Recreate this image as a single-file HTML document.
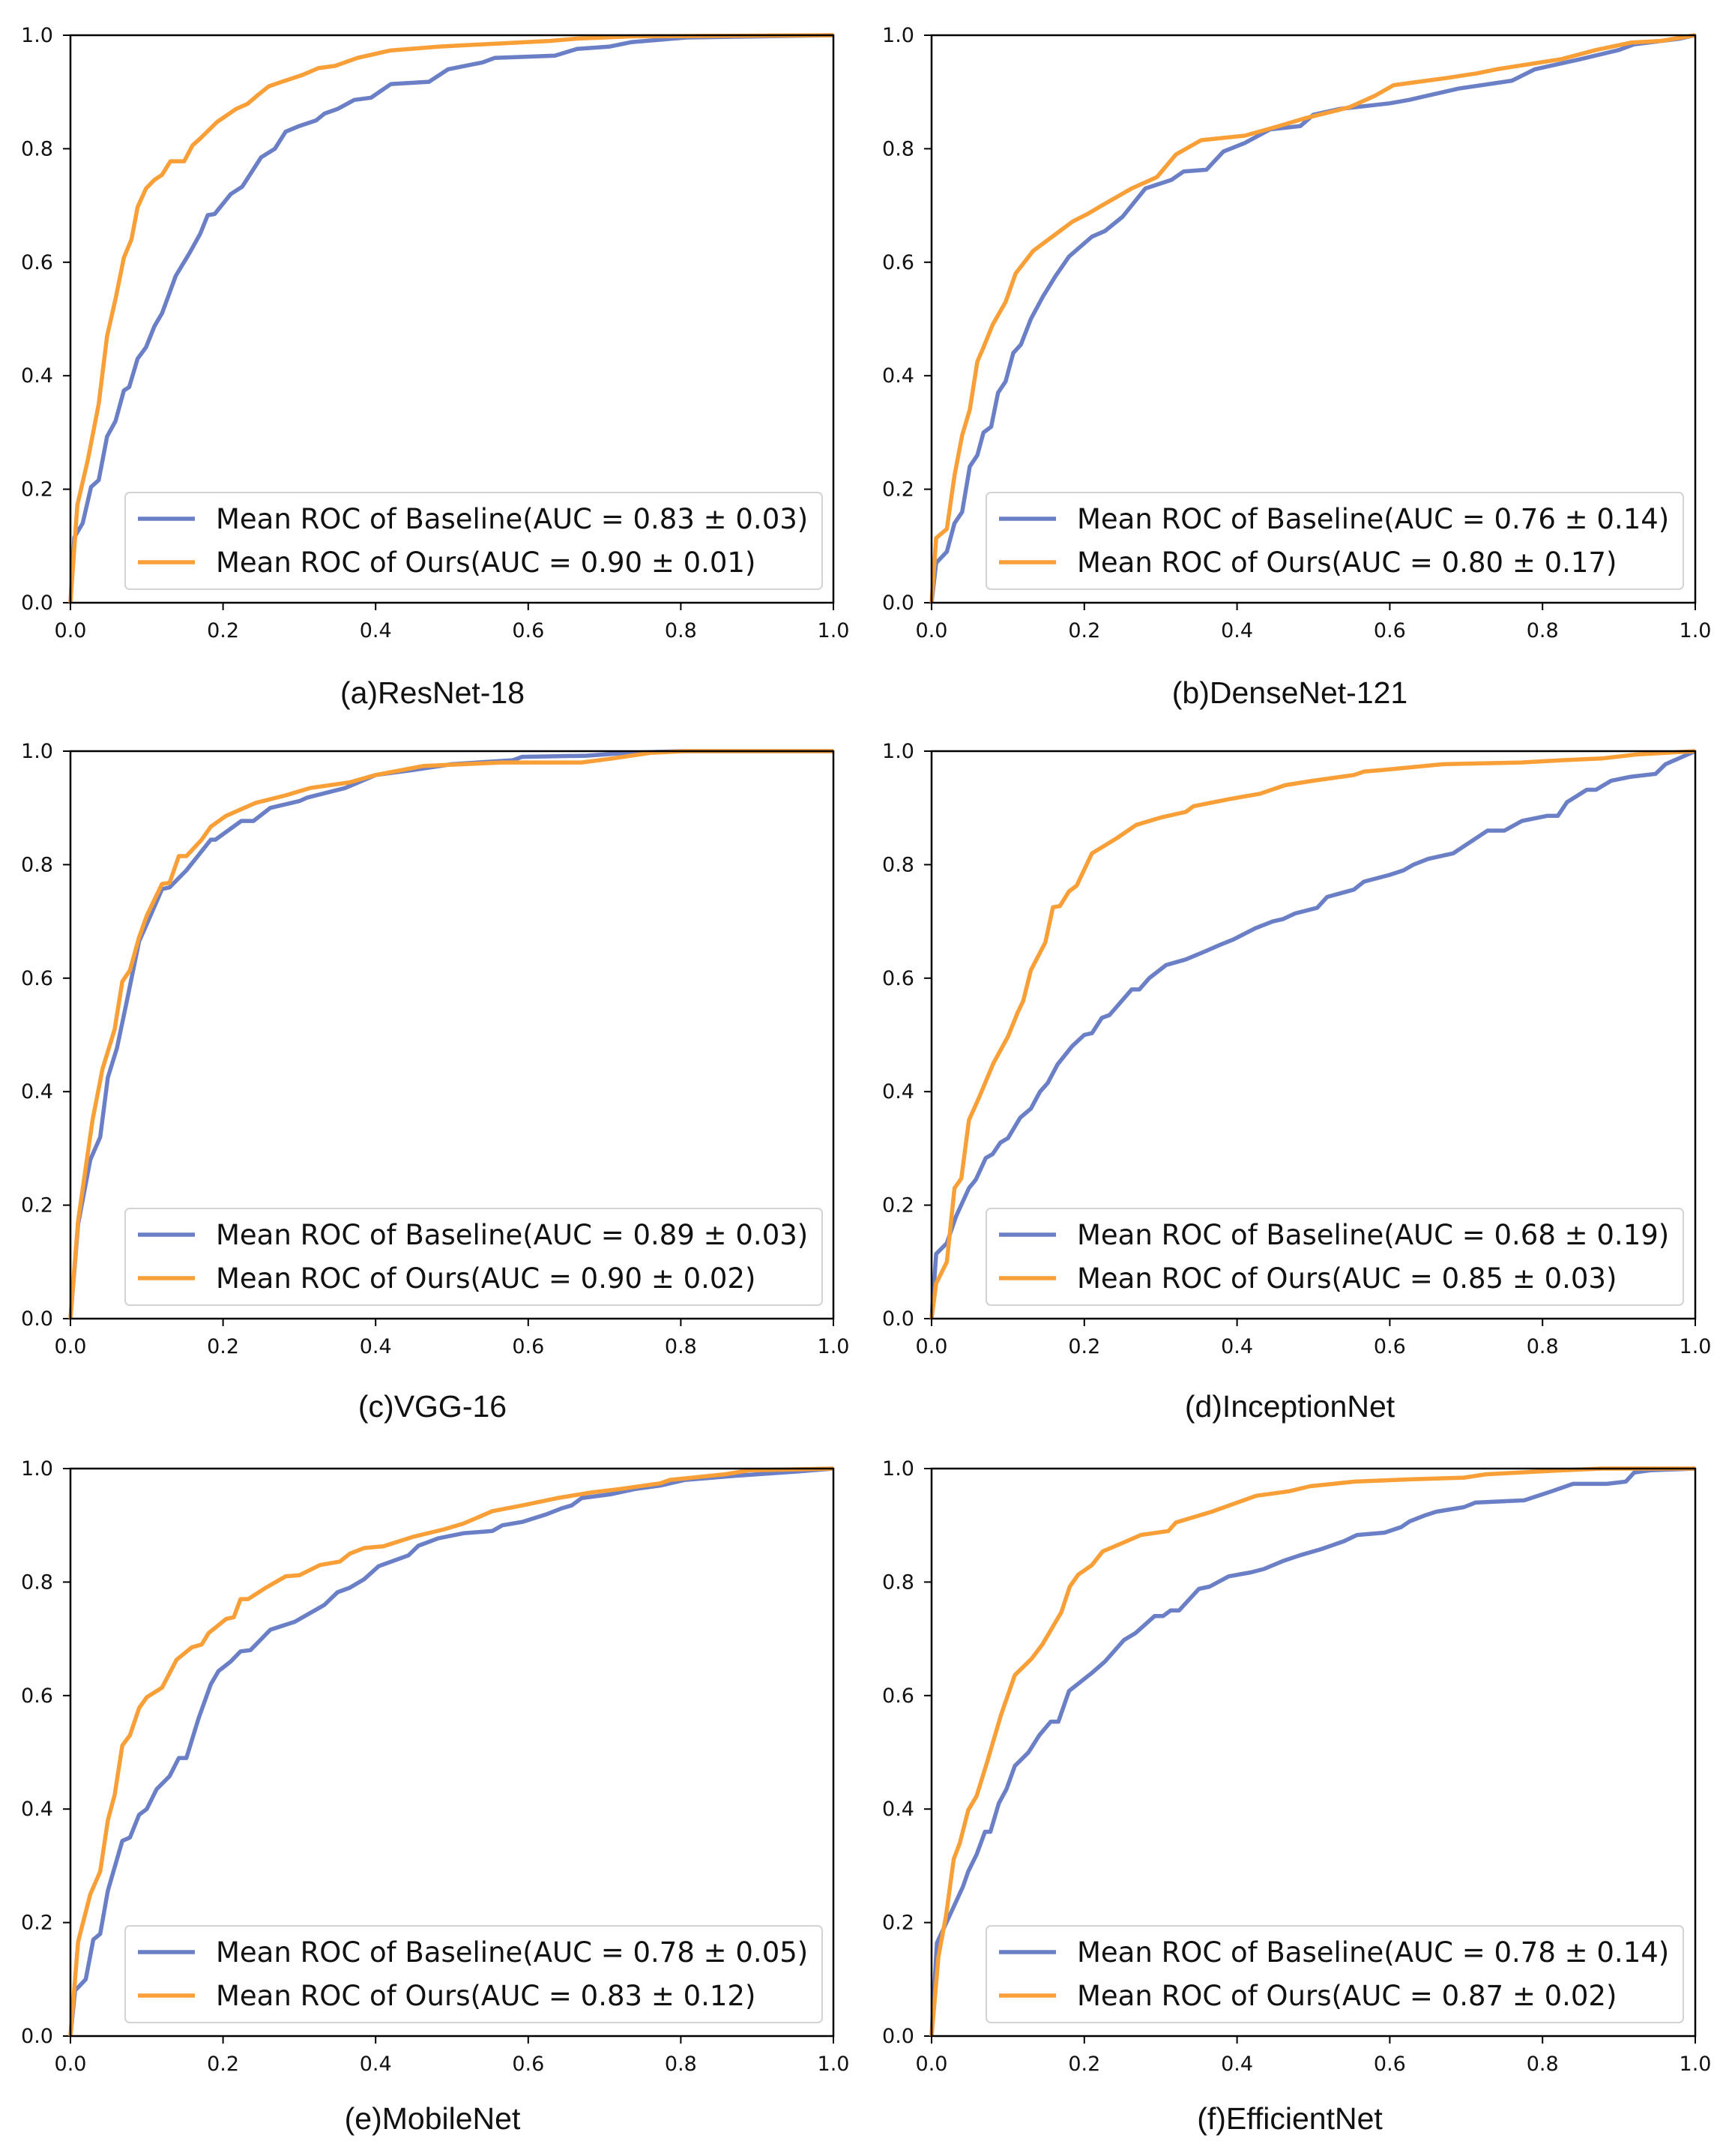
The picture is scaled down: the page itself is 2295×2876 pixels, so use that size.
<!DOCTYPE html>
<html><head><meta charset="utf-8"><style>
html,body{margin:0;padding:0;background:#fff;}
svg{display:block;}
</style></head><body>
<svg id="fig" xmlns="http://www.w3.org/2000/svg" width="2295" height="2876" viewBox="0 0 2295 2876"></svg>
<script>
// ---- data (FPR / TPR) ----
const panelTitles = ["(a)ResNet-18","(b)DenseNet-121","(c)VGG-16","(d)InceptionNet","(e)MobileNet","(f)EfficientNet"];
const baselineLabels = ["Mean ROC of Baseline(AUC = 0.83 ± 0.03)","Mean ROC of Baseline(AUC = 0.76 ± 0.14)","Mean ROC of Baseline(AUC = 0.89 ± 0.03)","Mean ROC of Baseline(AUC = 0.68 ± 0.19)","Mean ROC of Baseline(AUC = 0.78 ± 0.05)","Mean ROC of Baseline(AUC = 0.78 ± 0.14)"];
const oursLabels = ["Mean ROC of Ours(AUC = 0.90 ± 0.01)","Mean ROC of Ours(AUC = 0.80 ± 0.17)","Mean ROC of Ours(AUC = 0.90 ± 0.02)","Mean ROC of Ours(AUC = 0.85 ± 0.03)","Mean ROC of Ours(AUC = 0.83 ± 0.12)","Mean ROC of Ours(AUC = 0.87 ± 0.02)"];
const tickValues = [0,0.2,0.4,0.6,0.8,1.0];
const tickLabels = ["0.0","0.2","0.4","0.6","0.8","1.0"];

const aBaseX=[0,.005,.016,.027,.037,.048,.059,.07,.077,.088,.099,.11,.12,.138,.156,.17,.18,.189,.21,.225,.25,.268,.282,.30,.322,.333,.35,.372,.394,.42,.47,.495,.54,.556,.635,.664,.707,.736,.808,1];
const aBaseY=[0,.115,.14,.204,.216,.293,.32,.374,.38,.43,.45,.487,.51,.576,.616,.65,.683,.685,.72,.733,.785,.80,.83,.84,.85,.862,.87,.886,.89,.914,.918,.94,.952,.96,.964,.976,.98,.988,.996,1];
const aOursX=[0,.009,.023,.037,.048,.059,.07,.08,.088,.099,.11,.12,.131,.149,.16,.17,.192,.217,.232,.246,.26,.275,.304,.325,.347,.376,.419,.484,.541,.628,.664,.736,1];
const aOursY=[0,.172,.253,.35,.47,.535,.608,.64,.697,.73,.745,.754,.778,.778,.806,.818,.847,.87,.879,.895,.91,.917,.93,.942,.946,.96,.973,.98,.984,.99,.994,.998,1];

const bBaseX=[0,.006,.02,.03,.04,.05,.06,.068,.078,.087,.097,.107,.117,.13,.146,.162,.18,.21,.227,.25,.28,.314,.33,.36,.382,.41,.443,.483,.50,.534,.60,.625,.69,.76,.79,.85,.90,.92,.98,1];
const bBaseY=[0,.07,.09,.14,.16,.24,.26,.30,.31,.37,.39,.44,.455,.50,.54,.575,.61,.645,.655,.68,.73,.745,.76,.763,.795,.81,.834,.84,.86,.87,.88,.886,.906,.92,.94,.958,.974,.984,.994,1];
const bOursX=[0,.006,.02,.03,.04,.05,.06,.068,.08,.097,.11,.133,.159,.185,.204,.223,.262,.295,.32,.353,.41,.45,.49,.547,.58,.605,.676,.715,.74,.825,.87,.916,.955,1];
const bOursY=[0,.114,.13,.224,.295,.34,.425,.45,.49,.53,.58,.62,.646,.672,.685,.70,.73,.75,.79,.815,.823,.838,.854,.873,.893,.912,.925,.933,.94,.958,.974,.987,.99,1];

const cBaseX=[0,.01,.026,.039,.049,.061,.074,.09,.1,.12,.13,.152,.184,.19,.224,.24,.262,.30,.31,.36,.40,.45,.50,.58,.592,.676,.73,.80,1];
const cBaseY=[0,.166,.28,.32,.425,.477,.56,.665,.695,.757,.76,.79,.844,.844,.877,.877,.90,.912,.918,.935,.958,.967,.977,.984,.99,.992,.997,1,1];
const cOursX=[0,.01,.029,.042,.058,.068,.078,.09,.10,.12,.13,.142,.152,.172,.184,.204,.243,.282,.314,.366,.40,.463,.566,.67,.71,.76,.806,1];
const cOursY=[0,.172,.35,.44,.51,.594,.614,.672,.71,.766,.768,.815,.815,.844,.867,.886,.909,.922,.935,.945,.958,.974,.98,.98,.987,.997,1,1];

const dBaseX=[0,.006,.02,.032,.049,.058,.071,.08,.09,.10,.116,.13,.142,.152,.165,.184,.2,.21,.223,.233,.262,.272,.285,.307,.333,.356,.38,.395,.424,.447,.46,.476,.505,.518,.553,.566,.60,.618,.631,.65,.683,.728,.75,.773,.806,.82,.832,.858,.87,.89,.916,.948,.961,1];
const dBaseY=[0,.114,.133,.18,.23,.245,.283,.29,.31,.318,.354,.37,.40,.415,.448,.48,.50,.503,.53,.535,.58,.58,.60,.623,.633,.646,.66,.668,.688,.70,.704,.714,.724,.743,.756,.77,.782,.79,.80,.81,.82,.86,.86,.877,.886,.886,.91,.932,.932,.948,.955,.96,.977,1];
const dOursX=[0,.006,.02,.03,.039,.049,.061,.081,.10,.113,.12,.13,.149,.159,.168,.18,.19,.21,.243,.268,.30,.333,.343,.392,.43,.463,.50,.553,.566,.60,.67,.773,.825,.877,.922,1];
const dOursY=[0,.062,.10,.23,.247,.35,.386,.45,.497,.54,.56,.614,.663,.725,.727,.753,.763,.82,.847,.87,.883,.893,.903,.916,.925,.94,.948,.958,.964,.968,.977,.98,.984,.987,.994,1];

const eBaseX=[0,.006,.02,.03,.039,.049,.068,.078,.09,.10,.113,.13,.142,.152,.168,.184,.194,.21,.223,.236,.262,.294,.32,.333,.35,.366,.385,.404,.443,.456,.482,.515,.553,.566,.592,.625,.644,.657,.67,.709,.74,.773,.806,.87,.90,.955,1];
const eBaseY=[0,.08,.10,.17,.18,.256,.344,.35,.39,.40,.435,.458,.49,.49,.56,.62,.643,.66,.678,.68,.716,.73,.75,.76,.782,.79,.805,.828,.847,.864,.877,.886,.89,.90,.906,.92,.93,.935,.948,.955,.964,.97,.98,.987,.99,.995,1];
const eOursX=[0,.01,.026,.039,.049,.058,.068,.078,.09,.10,.12,.139,.159,.172,.181,.204,.214,.223,.233,.256,.282,.30,.327,.353,.366,.385,.41,.45,.49,.515,.553,.592,.638,.683,.72,.773,.786,.858,.89,1];
const eOursY=[0,.166,.25,.29,.38,.425,.512,.53,.578,.597,.614,.663,.685,.69,.71,.735,.738,.77,.77,.79,.81,.812,.83,.836,.85,.86,.863,.88,.893,.903,.925,.935,.948,.958,.964,.974,.98,.99,.997,1];

const fBaseX=[0,.007,.016,.027,.041,.048,.059,.07,.077,.088,.098,.109,.127,.141,.156,.166,.18,.21,.227,.252,.267,.292,.303,.313,.324,.35,.364,.389,.418,.435,.46,.482,.51,.54,.557,.593,.615,.626,.647,.661,.697,.712,.776,.812,.84,.884,.909,.92,.941,1];
const fBaseY=[0,.164,.19,.222,.263,.29,.32,.36,.36,.41,.435,.476,.50,.53,.554,.554,.608,.64,.66,.698,.71,.74,.74,.75,.75,.788,.792,.81,.817,.823,.837,.847,.858,.872,.883,.887,.897,.907,.918,.924,.932,.94,.944,.96,.973,.973,.977,.993,.997,1];
const fOursX=[0,.009,.019,.029,.037,.048,.059,.073,.091,.109,.131,.145,.17,.181,.192,.21,.224,.252,.274,.31,.32,.367,.40,.425,.468,.496,.554,.626,.697,.726,.812,.877,1];
const fOursY=[0,.14,.213,.312,.34,.398,.423,.484,.566,.636,.665,.69,.747,.792,.813,.83,.854,.87,.883,.89,.905,.924,.94,.952,.96,.969,.977,.981,.984,.99,.996,1,1];

const baseXs=[aBaseX,bBaseX,cBaseX,dBaseX,eBaseX,fBaseX];
const baseYs=[aBaseY,bBaseY,cBaseY,dBaseY,eBaseY,fBaseY];
const oursXs=[aOursX,bOursX,cOursX,dOursX,eOursX,fOursX];
const oursYs=[aOursY,bOursY,cOursY,dOursY,eOursY,fOursY];

// ---- layout ----
const NS="http://www.w3.org/2000/svg";
const svg=document.getElementById('fig');
const colX=[[94,1112],[1243,2262]];
const rowY=[[47,804],[1002,1759],[1959,2716]];
const capY=[938,1890,2840];
const capX=[577,1721];
const BLUE="#6b7fc6", ORANGE="#f99f38";
function mk(tag,attrs,parent){const e=document.createElementNS(NS,tag);for(const k in attrs)e.setAttribute(k,attrs[k]);(parent||svg).appendChild(e);return e;}

for(let p=0;p<6;p++){
  const c=p%2, r=Math.floor(p/2);
  const x0=colX[c][0], x1=colX[c][1], y0=rowY[r][0], y1=rowY[r][1];
  const sx=v=>x0+v*(x1-x0), sy=v=>y1-v*(y1-y0);
  const g=mk('g',{});
  
  
  tickValues.forEach((t,i)=>{
    const yt=mk('line',{x1:x0-10,x2:x0,y1:sy(t),y2:sy(t),stroke:'#000','stroke-width':2},g);
    
    
    const yl=mk('text',{x:x0-23,y:sy(t)+9,'text-anchor':'end','font-size':27,'font-family':'DejaVu Sans, sans-serif',fill:'#111'},g);
    yl.textContent=tickLabels[i];
    
    
    const xt=mk('line',{x1:sx(t),x2:sx(t),y1:y1,y2:y1+10,stroke:'#000','stroke-width':2},g);
    
    
    const xl=mk('text',{x:sx(t),y:y1+46,'text-anchor':'middle','font-size':27,'font-family':'DejaVu Sans, sans-serif',fill:'#111'},g);
    xl.textContent=tickLabels[i];
    
    
  });
  const mkPath=(xs,ys,col,name)=>{
    const d=xs.map((v,i)=>(i?'L':'M')+sx(v).toFixed(1)+','+sy(ys[i]).toFixed(1)).join('');
    const pa=mk('path',{d:d,fill:'none',stroke:col,'stroke-width':5.5,'stroke-linejoin':'round'},g);
    
    
  };
  mkPath(baseXs[p],baseYs[p],BLUE,'baseline-roc-line');
  mkPath(oursXs[p],oursYs[p],ORANGE,'ours-roc-line');
  const fr=mk('rect',{x:x0,y:y0,width:x1-x0,height:y1-y0,fill:'none',stroke:'#000','stroke-width':2.5},g);
  
  
  const lg=mk('g',{},g);
  
  
  mk('rect',{x:x0+73,y:y1-147,width:1003-73,height:129,rx:6,fill:'#fff','fill-opacity':0.85,stroke:'#d3d3d3','stroke-width':2},lg);
  const rows=[[baselineLabels[p],BLUE,y1-112],[oursLabels[p],ORANGE,y1-54]];
  rows.forEach((rw,i)=>{
    const le=mk('g',{},lg);
    
    
    mk('line',{x1:x0+90,x2:x0+166,y1:rw[2],y2:rw[2],stroke:rw[1],'stroke-width':5.5},le);
    const t=mk('text',{x:x0+194,y:rw[2]+13,'font-size':37,'font-family':'DejaVu Sans, sans-serif',fill:'#111'},le);
    t.textContent=rw[0];
  });
  const cap=mk('text',{x:capX[c],y:capY[r],'text-anchor':'middle','font-size':41,'font-family':'Liberation Sans, Arial, sans-serif',fill:'#111'},g);
  cap.textContent=panelTitles[p];
  
  
}
</script>
</body></html>
